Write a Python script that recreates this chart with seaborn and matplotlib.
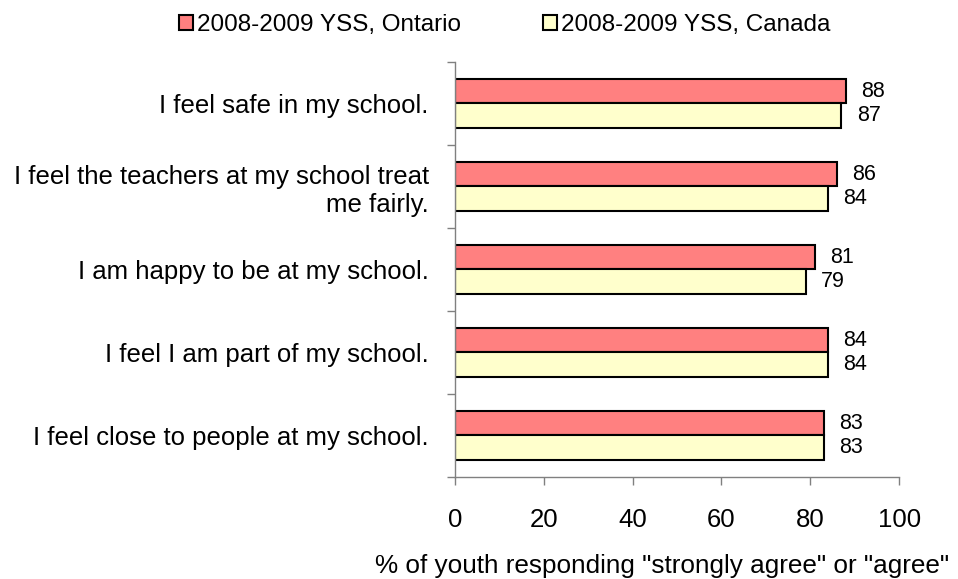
import matplotlib
matplotlib.use("Agg")
import matplotlib.pyplot as plt
from matplotlib.patches import Patch
import seaborn as sns
import pandas as pd
import numpy as np

statements = [
    "I feel safe in my school.",
    "I feel the teachers at my school treat\nme fairly.",
    "I am happy to be at my school.",
    "I feel I am part of my school.",
    "I feel close to people at my school.",
]
series_names = ["2008-2009 YSS, Ontario", "2008-2009 YSS, Canada"]
ontario = [88, 86, 81, 84, 83]
canada = [87, 84, 79, 84, 83]
x_ticks = [0, 20, 40, 60, 80, 100]

df = pd.DataFrame({
    "statement": statements * 2,
    "series": [series_names[0]] * len(statements) + [series_names[1]] * len(statements),
    "value": ontario + canada,
})

sns.set_theme(style="white")
plt.rcParams["font.family"] = ["Liberation Sans", "DejaVu Sans"]
plt.rcParams["text.color"] = "black"
plt.rcParams["axes.labelcolor"] = "black"

fig = plt.figure(figsize=(9.58, 5.79), dpi=100)
ax = fig.add_axes([0.475, 0.1762, 0.4635, 0.7168])

palette = {series_names[0]: "#FF8080", series_names[1]: "#FFFFCC"}
sns.barplot(data=df, y="statement", x="value", hue="series", orient="h",
            palette=palette, order=statements, hue_order=series_names,
            width=0.6, edgecolor="black", linewidth=1.5, saturation=1,
            legend=False, ax=ax)

for cont in ax.containers:
    ax.bar_label(cont, fmt="%d", padding=11, fontsize=15.5, color="black")

ax.set_xlim(0, 100)
ax.set_ylim(len(statements) - 0.5, -0.5)
ax.set_xticks(x_ticks)
ax.set_xticklabels([str(t) for t in x_ticks], fontsize=18.5)
ax.set_xlabel('% of youth responding "strongly agree" or "agree"', fontsize=18.8)
ax.xaxis.set_label_coords(0.466, -0.185)
ax.set_ylabel("")

# category labels centred on each group, tick marks on the group boundaries
ax.set_yticks(np.arange(len(statements)))
ax.set_yticks(np.arange(len(statements) + 1) - 0.5, minor=True)
ax.tick_params(axis="y", which="major", length=0, labelsize=18.5, pad=19, labelcolor="black")
ax.tick_params(axis="y", which="minor", length=6, width=1, color="#808080", left=True)
ax.tick_params(axis="x", length=6, width=1, color="#808080", bottom=True,
               direction="out", pad=16, labelcolor="black")

for side in ["top", "right"]:
    ax.spines[side].set_visible(False)
for side in ["left", "bottom"]:
    ax.spines[side].set_color("#808080")
    ax.spines[side].set_linewidth(1)

handles = [Patch(facecolor=palette[n], edgecolor="black", linewidth=1.5, label=n)
           for n in series_names]
fig.legend(handles=handles, loc="center", bbox_to_anchor=(0.527, 0.957), ncol=2,
           frameon=False, fontsize=17.5, handlelength=0.57, handleheight=0.57,
           handletextpad=0.15, columnspacing=3.4, borderpad=0)

fig.savefig("out.png", dpi=100)
